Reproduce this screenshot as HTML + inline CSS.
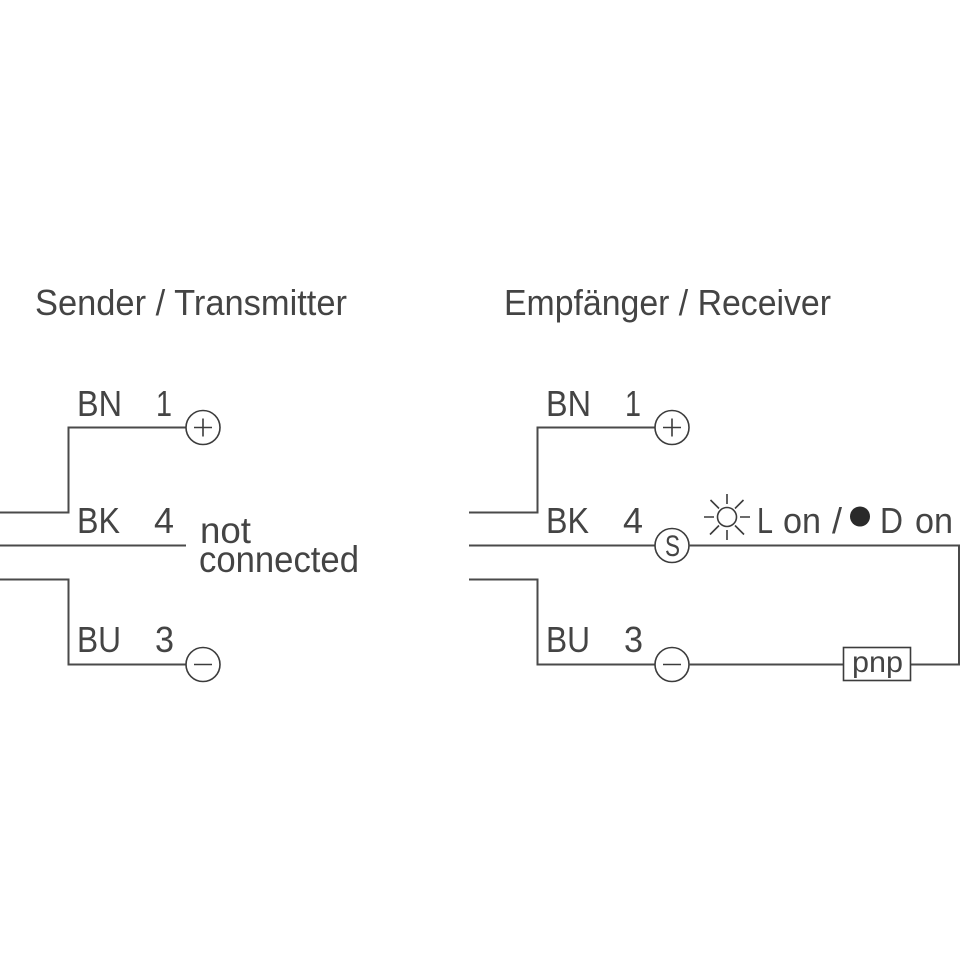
<!DOCTYPE html>
<html><head><meta charset="utf-8"><style>
html,body{margin:0;padding:0;background:#fff}
svg{display:block}
text{font-family:"Liberation Sans",sans-serif;fill:#444;font-size:36px}
.w{fill:none;stroke:#4a4a4a;stroke-width:2}
.t{fill:none;stroke:#3c3c3c;stroke-width:1.6}
</style></head><body>
<svg width="960" height="960" viewBox="0 0 960 960" xmlns="http://www.w3.org/2000/svg">
<rect width="960" height="960" fill="#fff"/>
<text x="35" y="315" textLength="312" lengthAdjust="spacingAndGlyphs">Sender / Transmitter</text>
<text x="504" y="315" textLength="327" lengthAdjust="spacingAndGlyphs">Empfänger / Receiver</text>

<path class="w" d="M0 512.500H68.500V427.500H186M0 545.500H186M0 579.500H68.500V664.500H186"/>
<circle class="t" cx="203" cy="427.500" r="17"/><path class="t" d="M194 427.500H212M203 418.500V436.500"/>
<circle class="t" cx="203" cy="664.500" r="17"/><path class="t" d="M194 664.500H212"/>
<text x="77" y="416" textLength="45" lengthAdjust="spacingAndGlyphs">BN</text>
<text x="156" y="416" textLength="16" lengthAdjust="spacingAndGlyphs">1</text>
<text x="77" y="533" textLength="43" lengthAdjust="spacingAndGlyphs">BK</text>
<text x="154" y="533" textLength="20" lengthAdjust="spacingAndGlyphs">4</text>
<text x="77" y="652" textLength="44" lengthAdjust="spacingAndGlyphs">BU</text>
<text x="155" y="652" textLength="19" lengthAdjust="spacingAndGlyphs">3</text>
<text x="200" y="543" textLength="51" lengthAdjust="spacingAndGlyphs" style="font-size:37px">not</text>
<text x="199" y="572" textLength="160" lengthAdjust="spacingAndGlyphs" style="font-size:37px">connected</text>

<path class="w" d="M469 512.500H537.500V427.500H655M469 545.500H655M469 579.500H537.500V664.500H655"/>
<circle class="t" cx="672" cy="427.500" r="17"/><path class="t" d="M663 427.500H681M672 418.500V436.500"/>
<circle class="t" cx="672" cy="545.500" r="17"/>
<circle class="t" cx="672" cy="664.500" r="17"/><path class="t" d="M663 664.500H681"/>
<text x="665" y="556" style="font-size:30px" textLength="15" lengthAdjust="spacingAndGlyphs">S</text>
<text x="546" y="416" textLength="45" lengthAdjust="spacingAndGlyphs">BN</text>
<text x="625" y="416" textLength="16" lengthAdjust="spacingAndGlyphs">1</text>
<text x="546" y="533" textLength="43" lengthAdjust="spacingAndGlyphs">BK</text>
<text x="623" y="533" textLength="20" lengthAdjust="spacingAndGlyphs">4</text>
<text x="546" y="652" textLength="44" lengthAdjust="spacingAndGlyphs">BU</text>
<text x="624" y="652" textLength="19" lengthAdjust="spacingAndGlyphs">3</text>

<path class="w" d="M689 545.500H959V664.500H911M844 664.500H689"/>
<rect class="t" x="843.500" y="647.500" width="67" height="33"/>
<text x="852" y="672" style="font-size:30px" textLength="51" lengthAdjust="spacingAndGlyphs">pnp</text>

<circle class="t" cx="727" cy="517" r="9.500"/>
<path class="t" d="M727 494V504M727 530V540M704 517H714M740 517H750M710.500 500L719 508.500M735 525.500L744 534.500M743.500 500L735 508.500M719 525.500L710 534.500"/>
<text x="757" y="533" textLength="16" lengthAdjust="spacingAndGlyphs">L</text>
<text x="783" y="533" textLength="38" lengthAdjust="spacingAndGlyphs">on</text>
<text x="832" y="533">/</text>
<circle cx="860" cy="516.500" r="10" fill="#2a2a2a"/>
<text x="880" y="533" textLength="23" lengthAdjust="spacingAndGlyphs">D</text>
<text x="915" y="533" textLength="38" lengthAdjust="spacingAndGlyphs">on</text>
</svg>
</body></html>
